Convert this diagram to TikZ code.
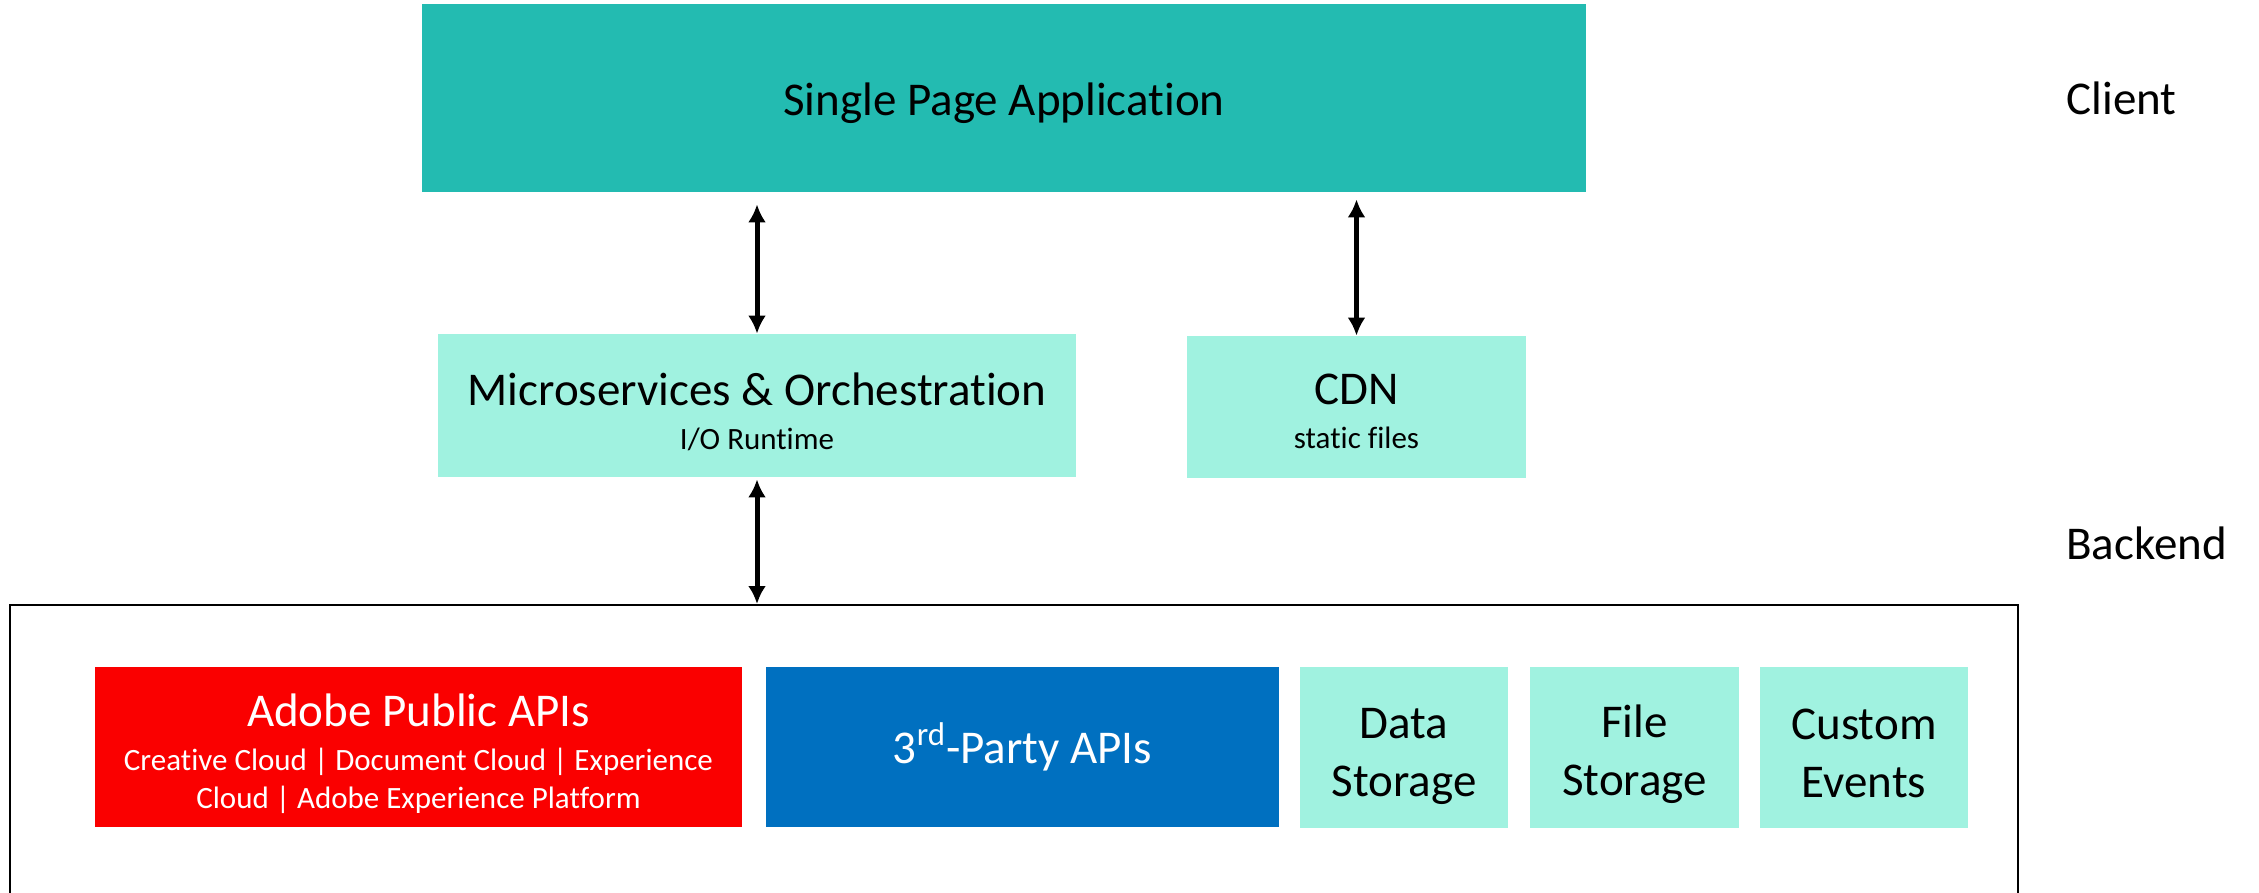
\documentclass[tikz,border=0pt]{standalone}
\usepackage{fontspec}
\setmainfont{Carlito}[Ligatures=NoCommon]
\usetikzlibrary{arrows.meta,positioning}
\definecolor{spateal}{HTML}{23BBB1}
\definecolor{mint}{HTML}{A0F2E0}
\definecolor{adobered}{HTML}{FA0000}
\definecolor{apiblue}{HTML}{0070C0}
\newcommand{\subfont}{\fontsize{15.5}{18}\selectfont}
\newcommand{\lift}[1]{\rule{0pt}{#1}}
\tikzset{boxstyle/.style = {rectangle, inner sep = 0pt, align = center, font = \fontsize{23.5}{32}\selectfont},
	mintbox/.style = {boxstyle, fill = mint},
	link/.style = {{Latex[length=9pt,width=9pt]}-{Latex[length=9pt,width=9pt]}, line width = 2.5pt},
	layerlabel/.style = {anchor = west, inner sep = 0pt, font = \fontsize{23.5}{28}\selectfont}}

\begin{document}
\begin{tikzpicture}[x=0.5pt, y=-0.5pt]
 \clip (0,0) rectangle (2259,893);
 \useasboundingbox (0,0) rectangle (2259,893);

 \node (spa) at (1004,98) [boxstyle, fill = spateal, minimum width = 582pt, minimum height = 94pt] {\lift{22pt}Single Page Application};
 \node (client) at (2066,98) [layerlabel] {Client};

 \node (micro) at (757,405.5) [mintbox, minimum width = 319pt, minimum height = 71.5pt]
  {\lift{23pt}Microservices \& Orchestration\\[-10pt]\subfont I/O Runtime};
 \node (cdn) at (1356.5,407) [mintbox, minimum width = 169.5pt, minimum height = 71pt]
  {\lift{20pt}CDN\\[-10pt]\subfont static files};
 \node (backendlabel) at (2066,543) [layerlabel] {Backend};

 % backend frame runs past the bottom edge
 \node (backend) at (1014,800) [draw, line width = 1pt, minimum width = 1004pt, minimum height = 195pt] {};

 \node (adobe) at (418.5,747) [boxstyle, fill = adobered, text = white, minimum width = 323.5pt, minimum height = 80pt]
  {\lift{23pt}Adobe Public APIs\\[-10pt]\subfont Creative Cloud | Document Cloud | Experience\\[-13pt]\subfont Cloud | Adobe Experience Platform};
 \node (thirdparty) at (1022.5,747) [boxstyle, fill = apiblue, text = white, minimum width = 256.5pt, minimum height = 80pt]
  {\lift{20pt}3\textsuperscript{rd}-Party APIs};
 \node (datastore) at (1404,747.5) [mintbox, minimum width = 104pt, minimum height = 80.5pt] {\lift{24pt}Data\\[-3pt]Storage};
 \node (filestore) at (1634.5,747) [mintbox, minimum width = 104.5pt, minimum height = 80.5pt] {\lift{24pt}File\\[-3pt]Storage};
 \node (events) at (1864,747) [mintbox, minimum width = 104pt, minimum height = 80.5pt] {\lift{22pt}Custom\\[-3pt]Events};

 \draw [link, shorten >= 6pt] (micro.north) -- (micro.north |- spa.south);
 \draw [link, shorten >= 3.5pt] (cdn.north) -- (cdn.north |- spa.south);
 \draw [link, shorten <= 1pt] (micro.south) -- (micro.south |- backend.north);

\end{tikzpicture}
\end{document}
